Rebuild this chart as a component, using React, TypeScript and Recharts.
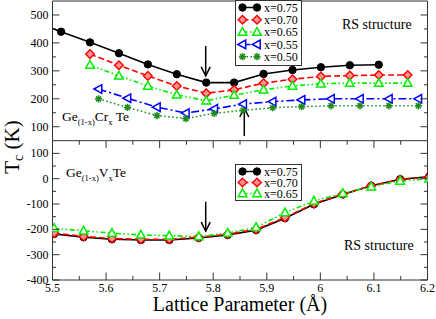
import React from 'react'
import { LineChart, Line, XAxis, YAxis, ReferenceLine, Legend } from 'recharts'

// Ge(1-x)Cr(x)Te, lattice parameter (Å) vs Tc (K)
const crLattice = [5.462, 5.516, 5.570, 5.624, 5.678, 5.732, 5.787, 5.839, 5.894, 5.948, 6.001, 6.055, 6.109, 6.163]
const crTc075 = [478, 440, 402, 363, 323, 288, 258, 258, 289, 303, 313, 320, 322, null]
const crTc070 = [null, null, 360, 320, 282, 246, 220, 232, 256, 270, 280, 283, 285, 285]
const crTc065 = [null, null, 321, 282, 246, 214, 193, 213, 232, 246, 254, 256, 256, 256]
const crLatticeLow = [5.586, 5.640, 5.695, 5.749, 5.802, 5.856, 5.911, 5.965, 6.020, 6.074, 6.128, 6.183]
const crTc055 = [235, 202, 170, 149, 164, 181, 190, 196, 200, 200, 200, 200]
const crTc050 = [200, 169, 140, 129, 148, 159, 168, 172, 175, 175, 175, 175]

// Ge(1-x)V(x)Te
const vLattice = [5.503, 5.558, 5.611, 5.665, 5.718, 5.773, 5.827, 5.880, 5.934, 5.988, 6.042, 6.095, 6.149, 6.203]
const vTc075 = [-218, -231, -239, -242, -242, -234, -222, -203, -156, -101, -62, -28, -2, 8]
const vTc070 = [-215, -228, -236, -239, -239, -231, -219, -200, -153, -99, -60, -28, -4, 6]
const vTc065 = [-196, -206, -215, -222, -225, -228, -215, -192, -134, -88, -58, -32, -9, 0]

const xTicks = [5.5, 5.55, 5.6, 5.65, 5.7, 5.75, 5.8, 5.85, 5.9, 5.95, 6, 6.05, 6.1, 6.15, 6.2]
const crTicks = [100, 150, 200, 250, 300, 350, 400, 450, 500]
const vTicks = [-400, -350, -300, -250, -200, -150, -100, -50, 0, 50, 100]

const crArrowDown = [{ x: 5.786, y: 389 }, { x: 5.786, y: 282 }]
const crArrowUp = [{ x: 5.858, y: 67 }, { x: 5.858, y: 167 }]
const vArrowDown = [{ x: 5.786, y: -91 }, { x: 5.786, y: -207 }]

const AXIS = '#333'
const PLOT_RIGHT = 427.5
const TOP_Y0 = 1
const MID_Y = 140.7
const FONT = '"Liberation Serif", "Times New Roman", serif'

type Kind = 'circle' | 'diamond' | 'tri' | 'triLeft' | 'star'
type Style = { name: string; color: string; dash?: string; marker: Kind }

const s075: Style = { name: 'x=0.75', color: '#000000', marker: 'circle' }
const s070: Style = { name: 'x=0.70', color: '#ff0000', dash: '6 3', marker: 'diamond' }
const s065: Style = { name: 'x=0.65', color: '#00ee00', dash: '5 2.5 1.5 2.5 1.5 2.5', marker: 'tri' }
const s055: Style = { name: 'x=0.55', color: '#0000ff', dash: '8 3 2 3', marker: 'triLeft' }
const s050: Style = { name: 'x=0.50', color: '#1c8c1c', dash: '1.5 2.5', marker: 'star' }

const toRows = (a: number[], t: (number | null)[]) =>
  a.map((v, i) => ({ a: v, t: t[i] })).filter(r => r.t !== null)

const crSeries = [
  { ...s075, data: toRows(crLattice, crTc075) },
  { ...s070, data: toRows(crLattice, crTc070) },
  { ...s065, data: toRows(crLattice, crTc065) },
  { ...s055, data: toRows(crLatticeLow, crTc055) },
  { ...s050, data: toRows(crLatticeLow, crTc050) },
]
const vSeries = [
  { ...s075, data: toRows(vLattice, vTc075) },
  { ...s070, data: toRows(vLattice, vTc070) },
  { ...s065, data: toRows(vLattice, vTc065) },
]

function Marker({ kind, cx, cy, color }: { kind: Kind; cx: number; cy: number; color: string }) {
  if (kind === 'circle') return <circle cx={cx} cy={cy} r={3.7} fill={color} stroke={color} />
  if (kind === 'diamond') {
    const r = 4.3
    return <polygon points={`${cx},${cy - r} ${cx + r},${cy} ${cx},${cy + r} ${cx - r},${cy}`} fill="#ff9090" stroke={color} strokeWidth={1.4} />
  }
  if (kind === 'tri')
    return <polygon points={`${cx},${cy - 4.6} ${cx + 4.3},${cy + 3.2} ${cx - 4.3},${cy + 3.2}`} fill="#fff" stroke={color} strokeWidth={1.5} />
  if (kind === 'triLeft')
    return <polygon points={`${cx - 4.6},${cy} ${cx + 3.2},${cy - 4.3} ${cx + 3.2},${cy + 4.3}`} fill="#fff" stroke={color} strokeWidth={1.5} />
  const r = 3.6
  return (
    <g stroke={color} strokeWidth={1.6}>
      <line x1={cx - r} x2={cx + r} y1={cy} y2={cy} />
      <line x1={cx} x2={cx} y1={cy - r} y2={cy + r} />
      <line x1={cx - r * 0.7} x2={cx + r * 0.7} y1={cy - r * 0.7} y2={cy + r * 0.7} />
      <line x1={cx - r * 0.7} x2={cx + r * 0.7} y1={cy + r * 0.7} y2={cy - r * 0.7} />
    </g>
  )
}

const fmtX = (v: number) => (Math.abs(v - 6) < 1e-9 ? '6' : v.toFixed(1))

const xTick = (panelTop: number, margin: number, labels: boolean) => (p: any) => {
  const v = p.payload.value
  const major = Math.round(v * 100) % 10 === 0
  const len = major ? 7.5 : 4
  const axisY = p.y - margin
  return (
    <g>
      <line x1={p.x} x2={p.x} y1={axisY} y2={axisY - len} stroke={AXIS} />
      <line x1={p.x} x2={p.x} y1={panelTop} y2={panelTop + len} stroke={AXIS} />
      {labels && major && (
        <text x={p.x} y={axisY + 11.5} textAnchor="middle" fontSize={12} fill="#000">
          {fmtX(v)}
        </text>
      )}
    </g>
  )
}

const yTick = (margin: number) => (p: any) => {
  const v = p.payload.value
  const major = v % 100 === 0
  const len = major ? 7 : 3.5
  const ax = p.x + margin
  return (
    <g>
      <line x1={ax} x2={ax + len} y1={p.y} y2={p.y} stroke={AXIS} />
      <line x1={PLOT_RIGHT} x2={PLOT_RIGHT - len} y1={p.y} y2={p.y} stroke={AXIS} />
      {major && (
        <text x={p.x} y={p.y + 4} textAnchor="end" fontSize={12} fill="#000">
          {v}
        </text>
      )}
    </g>
  )
}

const arrow = (p: any) => {
  const { x1, y1, x2, y2 } = p
  const dir = Math.sign(y2 - y1)
  return (
    <g stroke="#000" strokeWidth={1.5} fill="none">
      <line x1={x1} y1={y1} x2={x2} y2={y2} />
      <path d={`M${x2 - 4.5},${y2 - dir * 9} L${x2},${y2} L${x2 + 4.5},${y2 - dir * 9}`} />
    </g>
  )
}

const legendBox = (rows: Style[], h: number, step: number) => () => (
  <svg width={67} height={h} style={{ display: 'block' }}>
    <rect x={0.5} y={0.5} width={66} height={h - 1} fill="#fff" stroke={AXIS} />
    {rows.map((s, i) => {
      const cy = 7.5 + i * step
      return (
        <g key={s.name}>
          <line x1={7.5} x2={22} y1={cy} y2={cy} stroke={s.color} strokeWidth={1.5} strokeDasharray={s.dash} />
          <Marker kind={s.marker} cx={7.5} cy={cy} color={s.color} />
          <Marker kind={s.marker} cx={22} cy={cy} color={s.color} />
          <text x={29} y={cy + 4.2} fontSize={12} fill="#000" fontFamily={FONT}>
            {s.name}
          </text>
        </g>
      )
    })}
  </svg>
)

const renderLines = (series: (Style & { data: { a: number; t: number | null }[] })[]) =>
  series.map(s => (
    <Line
      key={s.name}
      data={s.data}
      dataKey="t"
      stroke={s.color}
      strokeWidth={1.6}
      strokeDasharray={s.dash}
      isAnimationActive={false}
      activeDot={false}
      dot={(p: any) => <Marker key={`${s.name}-${p.index}`} kind={s.marker} cx={p.cx} cy={p.cy} color={s.color} />}
    />
  ))

export default function App() {
  return (
    <div style={{ position: 'absolute', left: 0, top: 0, width: 436, height: 319, background: '#fff', fontFamily: FONT }}>
      <div style={{ position: 'absolute', left: 0, top: 0 }}>
        <LineChart width={436} height={142} margin={{ top: TOP_Y0, right: 8.5, bottom: 1.3, left: 0 }}>
          <XAxis
            type="number"
            dataKey="a"
            domain={[5.5, 6.2]}
            allowDataOverflow
            ticks={xTicks}
            interval={0}
            height={0}
            tickSize={0}
            tickMargin={0}
            tickLine={false}
            axisLine={{ stroke: AXIS }}
            tick={xTick(TOP_Y0, 0, false)}
          />
          <YAxis
            type="number"
            domain={[50, 550]}
            allowDataOverflow
            ticks={crTicks}
            interval={0}
            width={52.5}
            tickSize={0}
            tickMargin={4}
            tickLine={false}
            axisLine={{ stroke: AXIS }}
            tick={yTick(4)}
          />
          <ReferenceLine y={550} stroke={AXIS} />
          <ReferenceLine x={6.2} stroke={AXIS} />
          {renderLines(crSeries)}
          <ReferenceLine segment={crArrowDown} shape={arrow} />
          <ReferenceLine segment={crArrowUp} shape={arrow} />
          <Legend
            layout="horizontal"
            verticalAlign="middle"
            align="center"
            content={legendBox([s075, s070, s065, s055, s050], 66, 12.3)}
            wrapperStyle={{ left: 235, top: 0, width: 67, height: 66 }}
          />
        </LineChart>
      </div>

      <div style={{ position: 'absolute', left: 0, top: 0 }}>
        <LineChart width={436} height={319} margin={{ top: MID_Y, right: 8.5, bottom: 0, left: 0 }}>
          <XAxis
            type="number"
            dataKey="a"
            domain={[5.5, 6.2]}
            allowDataOverflow
            ticks={xTicks}
            interval={0}
            height={39}
            tickSize={0}
            tickMargin={0}
            tickLine={false}
            axisLine={{ stroke: AXIS }}
            tick={xTick(MID_Y, 0, true)}
            label={{ value: 'Lattice Parameter (Å)', position: 'insideBottom', offset: 8, fontSize: 20, fill: '#000' }}
          />
          <YAxis
            type="number"
            domain={[-400, 150]}
            allowDataOverflow
            ticks={vTicks}
            interval={0}
            width={52.5}
            tickSize={0}
            tickMargin={4}
            tickLine={false}
            axisLine={{ stroke: AXIS }}
            tick={yTick(4)}
          />
          <ReferenceLine y={150} stroke={AXIS} />
          <ReferenceLine x={6.2} stroke={AXIS} />
          {renderLines(vSeries)}
          <ReferenceLine segment={vArrowDown} shape={arrow} />
          <Legend
            layout="horizontal"
            verticalAlign="middle"
            align="center"
            content={legendBox([s075, s070, s065], 37, 11)}
            wrapperStyle={{ left: 235, top: 163.5, width: 67, height: 37 }}
          />
        </LineChart>
      </div>

      <svg width={436} height={319} style={{ position: 'absolute', left: 0, top: 0, pointerEvents: 'none' }} fontFamily={FONT}>
        <text transform="translate(19,147) rotate(-90)" textAnchor="middle" fontSize={21} fill="#000">
          T<tspan dy={4} fontSize={14}>c</tspan>
          <tspan dy={-4}> (K)</tspan>
        </text>
        <text x={62} y={121} fontSize={13.5} fill="#000">
          Ge<tspan dy={3.5} fontSize={8.5}>(1-x)</tspan>
          <tspan dy={-3.5}>Cr</tspan>
          <tspan dy={3.5} fontSize={8.5}>x</tspan>
          <tspan dy={-3.5}> Te</tspan>
        </text>
        <text x={66} y={177} fontSize={13.5} fill="#000">
          Ge<tspan dy={3.5} fontSize={8.5}>(1-x)</tspan>
          <tspan dy={-3.5}>V</tspan>
          <tspan dy={3.5} fontSize={8.5}>x</tspan>
          <tspan dy={-3.5}>Te</tspan>
        </text>
        <text x={342} y={29} fontSize={14} fill="#000">RS structure</text>
        <text x={344} y={250} fontSize={14} fill="#000">RS structure</text>
      </svg>
    </div>
  )
}
